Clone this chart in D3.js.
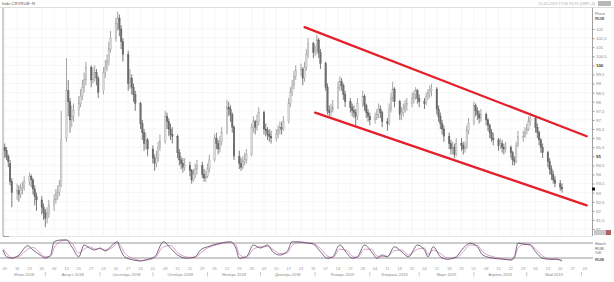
<!DOCTYPE html>
<html><head><meta charset="utf-8">
<script src="https://cdn.jsdelivr.net/npm/d3@7"></script>
<style>body{margin:0;background:#fff}svg{display:block;font-family:"Liberation Sans",Arial,sans-serif}</style>
</head><body><svg id="c" width="614" height="282"></svg>
<script>
const title = "Indx CRYRUB~R";
const stamp = "21.05.2019  17:36  93,19  (GMT+3)";
const firstDay = "2018-07-09", lastDay = "2019-05-21";
const open = [95.5,95.3,95.0,94.6,93.6,93.0,93.1,92.9,93.2,93.3,93.6,93.9,93.7,93.2,92.8,92.6,92.2,
91.9,91.6,91.8,92.3,92.6,92.9,93.0,93.4,96.0,98.6,98.0,97.0,97.2,97.5,97.9,98.3,98.8,99.2,99.9,99.2,99.5,99.6,99.3,
98.6,99.6,99.9,100.2,100.9,101.5,102.3,102.6,102.0,101.3,100.6,99.0,99.3,98.8,98.4,97.9,96.8,96.3,95.7,95.9,
95.4,94.9,94.6,94.9,95.5,95.8,97.2,96.9,96.5,96.2,96.1,95.2,94.8,94.6,94.4,94.5,94.2,93.7,94.0,94.3,94.5,94.0,93.8,
93.9,94.3,94.8,96.0,95.7,95.4,95.8,96.3,97.7,97.6,97.3,96.6,95.0,94.6,94.4,94.7,94.8,95.1,96.6,96.9,96.6,96.9,
97.4,96.5,96.4,96.2,96.1,96.0,96.2,96.4,96.6,96.5,96.9,97.9,98.5,98.9,99.4,99.7,99.8,99.3,99.9,100.6,101.2,
100.7,100.8,101.4,100.7,100.1,98.8,97.5,97.4,97.6,97.7,98.8,99.1,98.9,98.4,98.0,97.7,97.5,97.4,97.2,97.9,98.3,97.8,97.4,
97.2,97.0,97.1,97.3,97.6,97.4,96.9,96.8,97.6,98.2,98.7,98.0,97.3,97.4,97.6,97.8,97.9,98.2,98.4,98.6,
98.2,98.0,97.9,98.3,98.5,98.6,98.7,97.6,97.2,96.8,96.5,96.1,95.7,95.4,95.5,95.1,95.7,95.6,95.4,95.5,96.4,
96.8,97.8,97.5,97.3,97.1,97.3,97.0,96.7,96.3,96.0,95.9,95.6,95.7,95.5,95.4,95.5,95.2,94.8,94.7,95.6,96.1,96.1,
96.3,96.5,96.9,97.1,96.6,96.3,95.9,95.5,95.2,94.7,94.3,94.0,93.7,93.5,93.3];
const high = [95.7,95.5,95.1,94.8,93.8,93.5,93.4,93.5,93.6,93.9,94.1,94.0,93.8,93.4,93.0,92.8,92.4,
92.1,92.2,92.6,92.9,93.2,93.4,93.7,97.5,100.4,99.2,98.2,97.8,97.9,98.3,98.7,99.2,99.6,100.2,100.0,99.9,100.0,99.8,99.4,
99.9,100.3,100.6,101.3,101.9,102.6,102.95,102.8,102.2,101.5,100.8,99.8,99.5,99.0,98.6,98.0,97.0,96.5,96.3,96.0,
95.6,95.1,95.3,95.8,96.2,97.5,97.4,97.1,96.8,96.6,96.2,95.4,95.0,94.9,94.9,94.7,94.3,94.3,94.6,94.8,94.7,94.3,94.2,
94.6,95.1,96.2,96.3,95.9,96.1,96.6,98.1,98.0,97.8,97.4,96.7,95.3,94.9,95.0,95.2,95.4,96.8,97.2,97.0,97.3,97.7,
97.5,96.8,96.6,96.5,96.4,96.5,96.7,96.9,96.9,97.2,98.2,98.8,99.2,99.7,100.0,100.1,99.9,100.2,100.9,101.5,101.3,
101.1,101.7,101.5,100.9,100.2,99.0,97.8,97.9,98.1,99.1,99.4,99.3,99.0,98.6,98.2,97.9,97.8,97.6,98.2,98.6,98.4,97.9,97.6,
97.4,97.4,97.6,97.9,97.8,97.5,97.1,97.9,98.5,99.1,98.8,98.1,97.7,97.9,98.1,98.2,98.5,98.6,98.8,98.7,
98.4,98.2,98.5,98.7,98.9,99.0,98.8,97.8,97.4,97.0,96.7,96.3,95.9,95.8,95.7,96.0,96.0,95.8,95.8,96.7,97.1,
98.0,97.9,97.7,97.5,97.6,97.4,97.1,96.8,96.5,96.3,96.0,96.0,95.9,95.7,95.8,95.6,95.3,95.0,95.8,96.4,96.4,96.6,
96.8,97.2,97.4,97.2,96.8,96.4,96.0,95.7,95.3,94.9,94.5,94.2,93.9,93.7,93.5];
const low = [94.9,94.8,94.4,93.4,92.2,92.6,92.5,92.7,92.9,93.1,93.4,93.3,92.9,92.3,92.0,91.8,91.5,
91.1,91.3,91.6,92.0,92.4,92.6,92.8,93.3,95.8,97.2,96.3,96.6,96.9,97.2,97.7,98.1,98.5,98.9,98.8,99.0,99.1,98.9,98.2,
98.4,99.3,99.7,100.0,100.7,101.3,101.9,101.6,100.9,100.2,98.6,98.7,98.4,98.0,97.5,96.5,95.9,95.3,95.4,95.0,
94.6,94.2,94.4,94.7,95.3,95.7,96.5,96.1,95.9,95.7,94.9,94.5,94.3,94.1,94.2,93.9,93.5,93.6,93.8,94.0,93.8,93.6,93.6,
93.8,94.1,94.7,95.4,95.1,95.2,95.6,96.2,97.2,96.9,96.3,94.8,94.3,94.2,94.3,94.5,94.6,95.0,96.3,96.2,96.4,96.7,
96.2,96.1,95.9,95.8,95.7,95.8,96.0,96.2,96.2,96.4,96.8,97.7,98.3,98.7,99.2,99.4,98.9,99.1,99.7,100.4,100.4,
100.5,100.6,100.4,99.8,98.6,97.3,97.2,97.2,97.4,97.6,98.6,98.6,98.1,97.7,97.4,97.2,97.1,96.7,97.0,97.7,97.5,97.1,96.9,
96.7,96.8,97.0,97.1,97.1,96.6,96.4,96.7,97.4,98.0,97.7,97.0,97.0,97.2,97.4,97.5,97.7,97.9,98.1,97.9,
97.7,97.6,97.8,98.1,98.2,98.3,97.3,96.9,96.5,96.2,95.8,95.4,95.1,95.1,94.9,95.0,95.3,95.1,95.2,95.4,96.2,
96.7,97.2,97.0,96.8,96.9,96.7,96.4,96.0,95.8,95.6,95.3,95.4,95.2,95.1,95.2,94.9,94.5,94.5,94.6,95.5,95.8,96.0,
96.2,96.4,96.7,96.3,96.0,95.6,95.2,94.9,94.4,94.0,93.7,93.5,93.3,93.1,93.0];
const close = [95.3,95.0,94.7,93.6,93.0,93.1,92.9,93.2,93.3,93.6,93.9,93.7,93.2,92.8,92.6,92.2,91.9,
91.6,91.8,92.3,92.6,92.9,93.0,93.4,95.9,98.6,98.0,97.0,97.2,97.5,97.9,98.3,98.8,99.2,99.9,99.2,99.5,99.6,99.3,98.5,
99.6,99.9,100.2,100.9,101.5,102.3,102.6,102.0,101.3,100.6,99.0,99.3,98.8,98.4,97.9,96.8,96.3,95.7,95.9,95.4,
94.9,94.6,94.9,95.5,95.8,97.2,96.9,96.5,96.2,96.1,95.2,94.8,94.6,94.4,94.5,94.2,93.7,94.0,94.3,94.5,94.0,93.8,93.9,
94.3,94.8,96.0,95.7,95.4,95.8,96.3,97.7,97.6,97.3,96.6,95.0,94.6,94.4,94.7,94.8,95.1,96.6,96.9,96.6,96.9,97.4,
96.5,96.4,96.2,96.1,96.0,96.2,96.4,96.6,96.5,96.9,97.9,98.5,98.9,99.4,99.7,99.8,99.3,99.9,100.6,101.2,100.7,
100.8,101.4,100.7,100.1,98.8,97.5,97.4,97.6,97.7,98.8,99.1,98.9,98.4,98.0,97.7,97.5,97.4,97.2,97.9,98.3,97.8,97.4,97.2,
97.0,97.1,97.3,97.6,97.4,96.9,96.8,97.6,98.2,98.7,98.0,97.3,97.4,97.6,97.8,97.9,98.2,98.4,98.6,98.2,
98.0,97.9,98.3,98.5,98.6,98.7,97.6,97.2,96.8,96.5,96.1,95.7,95.4,95.5,95.1,95.7,95.6,95.4,95.5,96.4,96.8,
97.8,97.5,97.3,97.1,97.3,97.0,96.7,96.3,96.0,95.9,95.6,95.7,95.5,95.4,95.5,95.2,94.8,94.7,95.6,96.1,96.1,96.3,
96.5,96.9,97.1,96.6,96.3,95.9,95.5,95.2,94.7,94.3,94.0,93.7,93.5,93.3,93.2];
// trend channel (date, price)
const upperLine = [["2018-12-26",102.1],["2019-06-04",96.1]];
const lowerLine = [["2019-01-01",97.4],["2019-06-04",92.3]];
// stochastic oscillator
const stochDates = ["2018-07-08","2018-07-10","2018-07-13","2018-07-17","2018-07-22","2018-07-25","2018-07-29","2018-08-01","2018-08-04","2018-08-06",
"2018-08-10","2018-08-13","2018-08-16","2018-08-20","2018-08-23","2018-08-26","2018-08-29","2018-09-01","2018-09-04","2018-09-08",
"2018-09-11","2018-09-12","2018-09-15","2018-09-20","2018-09-24","2018-09-28","2018-10-02","2018-10-07","2018-10-11","2018-10-15",
"2018-10-20","2018-10-25","2018-10-28","2018-11-01","2018-11-04","2018-11-08","2018-11-14","2018-11-17","2018-11-19","2018-11-23",
"2018-11-27","2018-12-01","2018-12-05","2018-12-08","2018-12-12","2018-12-16","2018-12-19","2018-12-23","2018-12-27","2018-12-31",
"2019-01-04","2019-01-08","2019-01-11","2019-01-15","2019-01-19","2019-01-22","2019-01-25","2019-01-29","2019-02-02","2019-02-05",
"2019-02-08","2019-02-11","2019-02-15","2019-02-19","2019-02-23","2019-02-28","2019-03-04","2019-03-06","2019-03-09","2019-03-13",
"2019-03-17","2019-03-22","2019-03-26","2019-03-30","2019-04-03","2019-04-06","2019-04-12","2019-04-18","2019-04-22","2019-04-24",
"2019-04-26","2019-04-30","2019-05-03","2019-05-06","2019-05-10","2019-05-14","2019-05-18","2019-05-21"];
const stochK = [52,25,19,32,69,52,32,20,32,85, 92,92,65,25,72,60,52,60,48,72, 85,65,25,12,8,15,25,85,59,32,
19,25,52,65,72,79,85,60,19,25, 72,60,72,45,32,45,85,84,80,76, 45,19,25,72,39,19,25,72,45,19,
32,25,65,45,25,72,52,25,65,25, 15,25,60,79,65,32,19,15,12,25, 79,75,72,45,19,15,15,8];
const stochD = [58,38,22,26,55,62,40,25,27,60, 88,92,80,40,55,65,56,57,52,62, 80,75,40,18,10,12,20,65,70,42,
24,22,40,60,68,76,82,72,35,22, 55,65,66,55,38,40,70,84,82,78, 58,28,22,55,50,28,22,55,55,28,
26,27,50,52,32,55,60,35,52,38, 20,20,45,72,70,45,25,17,13,18, 60,76,74,55,28,17,15,11];
const stochLevels = [80,20];
const monthLabels = ["Июль 2018","Август 2018","Сентябрь 2018","Октябрь 2018","Ноябрь 2018","Декабрь 2018",
"Январь 2019","Февраль 2019","Март 2019","Апрель 2019","Май 2019"];
const priceTicks = d3.range(91, 102.01, 0.5);

const parse = d3.timeParse("%Y-%m-%d");
const dates = d3.timeDay.range(parse(firstDay), d3.timeDay.offset(parse(lastDay),1))
  .filter(d => d.getDay() !== 0 && d.getDay() !== 6);
const bars = close.map((c,i) => ({d: dates[i], o: open[i], h: high[i], l: low[i], c}));

const svg = d3.select("#c");
const L = 3, R = 592, T = 8, B = 236;
const x = d3.scaleTime().domain([new Date(2018,6,8), new Date(2019,5,7)]).range([L, R]);
const y = d3.scaleLinear().domain([91, 102]).range([229, 29]);
const ys = d3.scaleLinear().domain([0, 100]).range([263, 238]);

svg.append("rect").attr("width",614).attr("height",282).attr("fill","#fff");
svg.append("defs").append("clipPath").attr("id","pc").append("rect")
  .attr("x",L).attr("y",T).attr("width",R-L).attr("height",B-T);

// grid
const mondays = d3.timeMonday.range(new Date(2018,6,9), new Date(2019,5,7));
svg.append("g").selectAll("line").data(mondays).join("line")
  .attr("x1",d=>x(d)).attr("x2",d=>x(d)).attr("y1",T).attr("y2",B)
  .attr("stroke","#f0f0f0").attr("stroke-width",0.6);
svg.append("g").selectAll("line").data(priceTicks).join("line")
  .attr("x1",L).attr("x2",R).attr("y1",d=>y(d)).attr("y2",d=>y(d))
  .attr("stroke","#f0f0f0").attr("stroke-width",0.6);

// frame
svg.append("line").attr("x1",0).attr("x2",614).attr("y1",7.5).attr("y2",7.5).attr("stroke","#cfcfcf").attr("stroke-width",0.7);
svg.append("line").attr("x1",L).attr("x2",L).attr("y1",T).attr("y2",B).attr("stroke","#888").attr("stroke-width",0.8);
svg.append("line").attr("x1",L).attr("x2",R).attr("y1",B+0.5).attr("y2",B+0.5).attr("stroke","#ddd").attr("stroke-width",0.7);
svg.append("line").attr("x1",L).attr("x2",L+6).attr("y1",B+0.5).attr("y2",B+0.5).attr("stroke","#888").attr("stroke-width",0.8);
svg.append("line").attr("x1",R+0.5).attr("x2",R+0.5).attr("y1",T).attr("y2",B).attr("stroke","#888").attr("stroke-width",0.8);

// right price axis
const ax = svg.append("g").attr("transform",`translate(${R+0.5},0)`)
  .call(d3.axisRight(y).tickValues(priceTicks).tickSize(2).tickPadding(1.5)
    .tickFormat(d => (Number.isInteger(d) ? d3.format("d")(d) : d3.format(".1f")(d)).replace(".",",")));
ax.select(".domain").remove();
ax.selectAll("line").attr("stroke","#999");
ax.selectAll("text").attr("font-size","4.3px")
  .attr("font-weight",d => (d===100||d===95) ? "bold" : "normal")
  .attr("fill",d => (d===100||d===95) ? "#333" : "#888");
svg.append("text").attr("x",R+3).attr("y",15).attr("font-size","4.3px").attr("fill","#666").text("Price");
svg.append("text").attr("x",R+3).attr("y",20).attr("font-size","4.3px").attr("fill","#666").attr("font-weight","bold").text("RUB");

const g = svg.append("g").attr("clip-path","url(#pc)");
// candles
const cg = g.append("g");
cg.selectAll("line").data(bars).join("line")
  .attr("x1",d=>x(d.d)).attr("x2",d=>x(d.d)).attr("y1",d=>y(d.h)).attr("y2",d=>y(d.l))
  .attr("stroke",d=>d.c>=d.o?"#8f8f8f":"#5a5a5a").attr("stroke-width",0.8);
cg.selectAll("rect").data(bars).join("rect")
  .attr("x",d=>x(d.d)-0.8).attr("width",1.6)
  .attr("y",d=>y(Math.max(d.o,d.c))).attr("height",d=>Math.max(0.6,Math.abs(y(d.o)-y(d.c))))
  .attr("fill",d=>d.c>=d.o?"#d8d8d8":"#6e6e6e").attr("stroke",d=>d.c>=d.o?"#9a9a9a":"#555").attr("stroke-width",0.3);

// channel lines
const ln = d3.line().x(d=>x(parse(d[0]))).y(d=>y(d[1]));
[upperLine, lowerLine].forEach(l => svg.append("path").attr("d",ln(l))
  .attr("fill","none").attr("stroke","#e3202b").attr("stroke-width",2.3).attr("stroke-linecap","round"));

// last price marker
const last = bars[bars.length-1];
svg.append("rect").attr("x",R).attr("y",y(last.c)-1.5).attr("width",3).attr("height",3).attr("fill","#111");

// oscillator
svg.append("g").selectAll("line").data(stochLevels).join("line")
  .attr("x1",0).attr("x2",R+1).attr("y1",d=>ys(d)).attr("y2",d=>ys(d))
  .attr("stroke","#8c8c8c").attr("stroke-width",0.9);
const sl = d3.line().x(d=>x(d[0])).y(d=>ys(d[1])).curve(d3.curveMonotoneX);
const sd = stochDates.map(parse);
svg.append("path").attr("d",sl(sd.map((d,i)=>[d,stochD[i]]))).attr("fill","none").attr("stroke","#c889b9").attr("stroke-width",0.8);
svg.append("path").attr("d",sl(sd.map((d,i)=>[d,stochK[i]]))).attr("fill","none").attr("stroke","#55405f").attr("stroke-width",0.8);
[["Stoch",245,"normal"],["RUB",249.5,"normal"],["%K",254,"normal"],["RUB",261,"bold"]].forEach(t =>
  svg.append("text").attr("x",R+3).attr("y",t[1]).attr("font-size","4.2px").attr("font-weight",t[2]).attr("fill","#666").text(t[0]));

// bottom axis: days
svg.append("g").selectAll("text").data(mondays).join("text")
  .attr("x",d=>x(d)).attr("y",270).attr("text-anchor","middle").attr("font-size","4px").attr("fill","#999")
  .text(d3.timeFormat("%d"));
// months
const months = d3.timeMonth.range(new Date(2018,6,1), new Date(2019,5,1));
svg.append("g").selectAll("text").data(months).join("text")
  .attr("x",d=>(Math.max(L,x(d)) + x(d3.timeMonth.offset(d,1)))/2).attr("y",276)
  .attr("text-anchor","middle").attr("font-size","4px").attr("fill","#888")
  .text((d,i)=>monthLabels[i]);
svg.append("g").selectAll("line").data(months.slice(1).concat([new Date(2019,5,1)])).join("line")
  .attr("x1",d=>x(d)).attr("x2",d=>x(d)).attr("y1",272).attr("y2",276.5).attr("stroke","#aaa").attr("stroke-width",0.6);

// header
svg.append("text").attr("x",2).attr("y",5).attr("font-size","4.3px").attr("fill","#555").text(title);
svg.append("text").attr("x",595).attr("y",5).attr("text-anchor","end").attr("font-size","3.8px").attr("fill","#aaa").text(stamp);
svg.append("rect").attr("x",598).attr("y",1).attr("width",13).attr("height",5).attr("fill","#b8b8b8");
svg.append("rect").attr("x",594).attr("y",230).attr("width",12).attr("height",5).attr("fill","#c8c8c8");
svg.append("rect").attr("x",606).attr("y",230).attr("width",5).attr("height",5).attr("fill","#b06060");
</script></body></html>
